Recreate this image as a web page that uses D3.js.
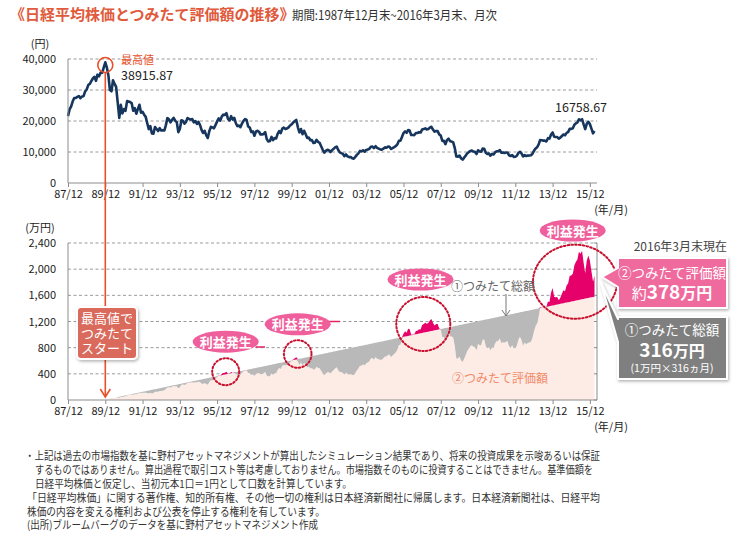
<!DOCTYPE html>
<html>
<head>
<meta charset="utf-8">
<script src="https://cdn.jsdelivr.net/npm/d3@7"></script>
<style>
  body { margin: 0; background: #fff; }
  svg { font-family: "Noto Sans CJK JP", "Noto Sans", sans-serif; }
</style>
</head>
<body>
<div id="chart"></div>
<script>
// monthly Nikkei 225 closes, 1987/12 .. 2016/03
var nikkei = [
  21564,
  23719, 24687, 26260, 27434, 27418, 27769, 28018, 27366, 27924, 28000, 29579, 30159,
  31581, 31986, 32839, 33714, 34267, 32949, 34954, 34431, 35637, 35549, 37269, 38916,
  37189, 34592, 29980, 29585, 33131, 31940, 31036, 25978, 20984, 25194, 22455, 23849,
  23293, 26409, 26292, 26111, 25790, 23291, 24121, 22336, 23916, 25222, 22688, 22984,
  22023, 21339, 19346, 17391, 18348, 15952, 15910, 18061, 17399, 16767, 17684, 16925,
  17024, 16953, 18591, 20919, 20552, 19590, 20380, 21027, 20106, 19703, 16408, 17417,
  20229, 19997, 19112, 19725, 20974, 20644, 20449, 20629, 19564, 19990, 19076, 19723,
  18650, 17053, 16140, 16807, 15437, 14517, 16678, 18117, 17913, 17655, 18744, 19868,
  20813, 20125, 21407, 22041, 21956, 22531, 20693, 20167, 21556, 20467, 21020, 19361,
  18330, 18557, 18003, 19151, 20069, 20605, 20331, 18229, 17888, 16459, 16636, 15259,
  16628, 16832, 16527, 15641, 15671, 15830, 16379, 14108, 13406, 13565, 14884, 13842,
  14499, 14368, 15837, 16702, 16112, 17530, 17862, 17437, 17605, 17942, 18558, 18934,
  19540, 19960, 20337, 17974, 16332, 17411, 15727, 16861, 15747, 14540, 14649, 13786,
  13844, 12884, 12999, 13934, 13262, 12969, 11861, 10714, 9775, 10366, 10697, 10543,
  9998, 10588, 11025, 11493, 11764, 10622, 9878, 9619, 9383, 8640, 9216, 8579,
  8340, 8363, 7973, 7831, 8425, 9083, 9563, 10344, 10219, 10560, 10101, 10677,
  10784, 11042, 11715, 11762, 11236, 11858, 11326, 11082, 10824, 10771, 11069, 11489,
  11388, 11741, 11669, 11009, 11277, 11584, 11900, 12414, 13574, 13607, 14872, 16111,
  16650, 16206, 17060, 16906, 15467, 15505, 15457, 16141, 16128, 16399, 16274, 17226,
  17383, 17604, 17288, 17400, 17876, 18138, 17249, 16569, 16786, 16737, 15681, 15308,
  13592, 13603, 12526, 13850, 14338, 13481, 13377, 13073, 11260, 8577, 8512, 8860,
  7994, 7568, 8110, 8828, 9523, 9958, 10357, 10493, 10133, 10035, 9346, 10546,
  10198, 10126, 11090, 11057, 9769, 9383, 9537, 8824, 9369, 9202, 9937, 10229,
  10238, 10624, 9755, 9850, 9694, 9816, 9833, 8955, 8700, 8988, 8435, 8455,
  8803, 9723, 10084, 9521, 8543, 9007, 8695, 8840, 8870, 8928, 9446, 10395,
  11139, 11559, 12398, 13861, 13775, 13677, 13668, 13389, 14456, 14328, 15662, 16291,
  14915, 14841, 14828, 14304, 14632, 15162, 15621, 15425, 16174, 16414, 17460, 17451,
  17674, 18798, 19207, 19520, 20563, 20236, 20585, 18890, 17388, 19083, 19747, 19034,
  17518, 16027, 16759
];

var xLabels = ["87/12", "89/12", "91/12", "93/12", "95/12", "97/12", "99/12", "01/12",
  "03/12", "05/12", "07/12", "09/12", "11/12", "13/12", "15/12"];
var topTicks = [0, 10000, 20000, 30000, 40000];
var bottomTicks = [0, 400, 800, 1200, 1600, 2000, 2400];

var buyStart = 24;     // purchases start 1989/12 (the peak)
var monthlyBuy = 5;    // per-month amount in the lower chart's axis units

var footnotes = [
  "・上記は過去の市場指数を基に野村アセットマネジメントが算出したシミュレーション結果であり、将来の投資成果を示唆あるいは保証",
  "するものではありません。算出過程で取引コスト等は考慮しておりません。市場指数そのものに投資することはできません。基準価額を",
  "日経平均株価と仮定し、当初元本1口＝1円として口数を計算しています。",
  "「日経平均株価」に関する著作権、知的所有権、その他一切の権利は日本経済新聞社に帰属します。日本経済新聞社は、日経平均",
  "株価の内容を変える権利および公表を停止する権利を有しています。",
  "(出所)ブルームバーグのデータを基に野村アセットマネジメント作成"
];

var svg = d3.select('#chart')
  .append('svg')
  .attr('width', 740)
  .attr('height', 555);

var defs = svg.append('defs');
var shadow = defs.append('filter').attr('id', 'shadow')
  .attr('x', '-20%').attr('y', '-20%').attr('width', '150%').attr('height', '150%');
shadow.append('feDropShadow').attr('dx', 1).attr('dy', 1.5).attr('stdDeviation', 1.5)
  .attr('flood-color', '#000').attr('flood-opacity', 0.3);

var data = nikkei.map(function (v, i) {
  return { date: new Date(1987, 11 + i, 1), price: v };
});

// accumulation simulation
var units = 0;
var accum = [];
data.forEach(function (d, i) {
  if (i < buyStart) return;
  units += monthlyBuy / d.price;
  accum.push({
    date: d.date,
    invested: monthlyBuy * (i - buyStart + 1),
    value: units * d.price
  });
});

var x = d3.scaleTime()
  .domain([new Date(1987, 11, 1), new Date(2016, 2, 1)])
  .range([68, 594.5]);
var xRight = 597;
var tickDates = xLabels.map(function (l, i) { return new Date(1987 + i * 2, 11, 1); });

var yTop = d3.scaleLinear().domain([0, 40000]).range([183, 59]);
var yBot = d3.scaleLinear().domain([0, 2400]).range([400, 243]);

// title
svg.append('text').attr('x', 10).attr('y', 20)
  .attr('font-size', 15).attr('font-weight', 'bold').attr('fill', '#e05a3c')
  .text('《日経平均株価とつみたて評価額の推移》');
svg.append('text').attr('x', 292).attr('y', 19.5)
  .attr('font-size', 12.5).attr('fill', '#333')
  .attr('textLength', 205).attr('lengthAdjust', 'spacingAndGlyphs')
  .text('期間:1987年12月末~2016年3月末、月次');

function drawFrame(y, ticks, unitLabel, unitY, labelY) {
  var g = svg.append('g');
  g.selectAll('.grid').data(ticks.slice(1)).enter().append('line')
    .attr('x1', 68).attr('x2', xRight)
    .attr('y1', function (d) { return y(d); })
    .attr('y2', function (d) { return y(d); })
    .attr('stroke', '#9a9a9a').attr('stroke-dasharray', '3,2.5');
  g.selectAll('.yl').data(ticks).enter().append('text')
    .attr('x', 56).attr('y', function (d) { return y(d) + 4; })
    .attr('text-anchor', 'end').attr('font-size', 11).attr('fill', '#222')
    .text(d3.format(','));
  g.append('text').attr('x', 40).attr('y', unitY).attr('text-anchor', 'middle')
    .attr('font-size', 11).attr('fill', '#222').text(unitLabel);
  g.append('text').attr('x', 611).attr('y', labelY).attr('text-anchor', 'middle')
    .attr('font-size', 11).attr('fill', '#222').text('(年/月)');
  return g;
}

function drawAxes(g, y, ticks, rightBorder) {
  var y0 = y(0);
  var xAxis = d3.axisBottom(x).tickValues(tickDates).tickSize(4).tickPadding(3)
    .tickFormat(function (d, i) { return xLabels[i]; });
  var ax = g.append('g').attr('transform', 'translate(0,' + y0 + ')').call(xAxis);
  ax.select('.domain').attr('d', 'M68,0H' + xRight).attr('stroke', '#8c8c8c');
  ax.selectAll('.tick line').attr('stroke', '#8c8c8c');
  ax.selectAll('.tick text').attr('font-size', 11).attr('fill', '#222')
    .attr('font-family', '"Noto Sans CJK JP", sans-serif');
  g.append('line').attr('x1', 68).attr('x2', 68)
    .attr('y1', y(ticks[ticks.length - 1])).attr('y2', y0)
    .attr('stroke', '#8c8c8c');
  if (rightBorder) {
    g.append('line').attr('x1', xRight).attr('x2', xRight)
      .attr('y1', y(ticks[ticks.length - 1])).attr('y2', y0)
      .attr('stroke', '#8c8c8c');
    g.selectAll('.rt').data(ticks).enter().append('line')
      .attr('x1', xRight - 3).attr('x2', xRight)
      .attr('y1', function (d) { return y(d); })
      .attr('y2', function (d) { return y(d); })
      .attr('stroke', '#8c8c8c');
  }
}

// ---- upper chart ----
var gTop = drawFrame(yTop, topTicks, '(円)', 48, 214);

gTop.append('path').datum(data)
  .attr('fill', 'none').attr('stroke', '#17365d').attr('stroke-width', 2.6)
  .attr('stroke-linejoin', 'round')
  .attr('d', d3.line().x(function (d) { return x(d.date); })
    .y(function (d) { return yTop(d.price); }));
drawAxes(gTop, yTop, topTicks, false);

// ---- lower chart ----
var gBot = drawFrame(yBot, bottomTicks, '(万円)', 232, 431);

gBot.append('path').datum(accum).attr('fill', '#fdece5')
  .attr('d', d3.area().x(function (d) { return x(d.date); })
    .y0(yBot(0)).y1(function (d) { return yBot(Math.min(d.value, d.invested)); }));
gBot.append('path').datum(accum).attr('fill', '#b9b9b9')
  .attr('d', d3.area().x(function (d) { return x(d.date); })
    .y0(function (d) { return yBot(Math.min(d.value, d.invested)); })
    .y1(function (d) { return yBot(d.invested); }));
gBot.append('path').datum(accum).attr('fill', '#e5006a')
  .attr('d', d3.area().x(function (d) { return x(d.date); })
    .y0(function (d) { return yBot(d.invested); })
    .y1(function (d) { return yBot(Math.max(d.value, d.invested)); }));
drawAxes(gBot, yBot, bottomTicks, true);

// ---- peak marker and arrow ----
var peakX = x(data[buyStart].date);
var orange = '#e8502a';
svg.append('line').attr('x1', peakX).attr('x2', peakX)
  .attr('y1', 72).attr('y2', 397)
  .attr('stroke', orange).attr('stroke-width', 1.6);
svg.append('path')
  .attr('d', 'M' + (peakX - 5) + ',389L' + peakX + ',397L' + (peakX + 5) + ',389')
  .attr('fill', 'none').attr('stroke', orange).attr('stroke-width', 1.6);
svg.append('circle').attr('cx', peakX).attr('cy', 65).attr('r', 7.5)
  .attr('fill', 'none').attr('stroke', orange).attr('stroke-width', 1.6);
svg.append('text').attr('x', 121).attr('y', 64).attr('font-size', 11)
  .attr('fill', orange).text('最高値');
svg.append('text').attr('x', 121).attr('y', 80).attr('font-size', 12.5)
  .attr('fill', '#222').text('38915.87');
svg.append('text').attr('x', 555).attr('y', 112).attr('font-size', 12.5)
  .attr('fill', '#222').text('16758.67');

// start box
svg.append('rect').attr('x', 77).attr('y', 307).attr('width', 60).attr('height', 52)
  .attr('rx', 4).attr('fill', '#d96b5c').attr('stroke', '#fff').attr('stroke-width', 2)
  .attr('filter', 'url(#shadow)');
['最高値で', 'つみたて', 'スタート'].forEach(function (t, i) {
  svg.append('text').attr('x', 107).attr('y', 322.5 + i * 15)
    .attr('text-anchor', 'middle').attr('font-size', 13).attr('fill', '#fff').text(t);
});

// profit annotations
var pink = '#ef5f9c';
var dotted = '#c8102e';
var bubbles = [
  { cx: 225.7, cy: 341.7 }, { cx: 297.7, cy: 324.3 },
  { cx: 420.5, cy: 279.5 }, { cx: 572.7, cy: 230.5 }
];
svg.append('line').attr('x1', 256).attr('x2', 265).attr('y1', 347).attr('y2', 347)
  .attr('stroke', '#e0245e').attr('stroke-width', 1.5);
svg.append('line').attr('x1', 328).attr('x2', 340).attr('y1', 321.5).attr('y2', 321.5)
  .attr('stroke', '#e0245e').attr('stroke-width', 1.5);
bubbles.forEach(function (b) {
  svg.append('ellipse').attr('cx', b.cx).attr('cy', b.cy).attr('rx', 33).attr('ry', 11)
    .attr('fill', pink);
  svg.append('text').attr('x', b.cx).attr('y', b.cy + 5).attr('text-anchor', 'middle')
    .attr('font-size', 13).attr('font-weight', 'bold').attr('fill', '#fff').text('利益発生');
});
var rings = [
  { cx: 225.7, cy: 371.7, rx: 13.5, ry: 13.5 },
  { cx: 297.7, cy: 354, rx: 13.8, ry: 13.8 },
  { cx: 423.3, cy: 324, rx: 27, ry: 27 },
  { cx: 575, cy: 281.7, rx: 42, ry: 37 }
];
rings.forEach(function (r) {
  svg.append('ellipse').attr('cx', r.cx).attr('cy', r.cy).attr('rx', r.rx).attr('ry', r.ry)
    .attr('fill', 'none').attr('stroke', dotted).attr('stroke-width', 2)
    .attr('stroke-dasharray', '1.6,2.2').attr('stroke-linecap', 'round');
});

// series labels
svg.append('text').attr('x', 493).attr('y', 291).attr('text-anchor', 'middle')
  .attr('font-size', 12).attr('fill', '#666').text('①つみたて総額');
svg.append('line').attr('x1', 506).attr('x2', 506).attr('y1', 294).attr('y2', 316)
  .attr('stroke', '#777').attr('stroke-width', 1);
svg.append('path').attr('d', 'M502,310L506,316L510,310')
  .attr('fill', 'none').attr('stroke', '#777').attr('stroke-width', 1);
svg.append('text').attr('x', 500).attr('y', 382.5).attr('text-anchor', 'middle')
  .attr('font-size', 12).attr('fill', '#f28a68').text('②つみたて評価額');

// callouts
svg.append('text').attr('x', 727).attr('y', 251).attr('text-anchor', 'end')
  .attr('font-size', 12).attr('fill', '#444').text('2016年3月末現在');

svg.append('path')
  .attr('d', 'M618,258H727V308H618V287L602,277L618,268Z')
  .attr('fill', '#ef6a9d').attr('stroke', '#fff').attr('stroke-width', 2)
  .attr('stroke-linejoin', 'round').attr('filter', 'url(#shadow)');
svg.append('text').attr('x', 672).attr('y', 278).attr('text-anchor', 'middle')
  .attr('font-size', 13.5).attr('fill', '#fff').text('②つみたて評価額');
var t1 = svg.append('text').attr('x', 672).attr('y', 299).attr('text-anchor', 'middle')
  .attr('fill', '#fff');
t1.append('tspan').attr('font-size', 15).text('約');
t1.append('tspan').attr('font-size', 19).attr('font-weight', 'bold').text('378');
t1.append('tspan').attr('font-size', 16).attr('font-weight', 'bold').text('万円');

svg.append('path')
  .attr('d', 'M618,317H727V379H618V342L601,283L618,319Z')
  .attr('fill', '#7f7f7f').attr('stroke', '#fff').attr('stroke-width', 2)
  .attr('stroke-linejoin', 'round').attr('filter', 'url(#shadow)');
svg.append('text').attr('x', 672).attr('y', 334.5).attr('text-anchor', 'middle')
  .attr('font-size', 13.5).attr('fill', '#fff').text('①つみたて総額');
var t2 = svg.append('text').attr('x', 672).attr('y', 356.5).attr('text-anchor', 'middle')
  .attr('fill', '#fff').attr('font-weight', 'bold');
t2.append('tspan').attr('font-size', 19).text('316');
t2.append('tspan').attr('font-size', 16).text('万円');
svg.append('text').attr('x', 672).attr('y', 371.5).attr('text-anchor', 'middle')
  .attr('font-size', 10.5).attr('fill', '#fff').text('(1万円×316ヵ月)');

// footnotes
var noteLayout = [
  { x: 25, y: 460, end: 600 }, { x: 35, y: 474, end: 593 }, { x: 35, y: 488, end: 352 },
  { x: 27, y: 502, end: 600 }, { x: 27, y: 516, end: 325 }, { x: 27, y: 529, end: 318 }
];
footnotes.forEach(function (t, i) {
  var n = noteLayout[i];
  svg.append('text').attr('x', n.x).attr('y', n.y)
    .attr('font-size', 11).attr('fill', '#333')
    .attr('textLength', n.end - n.x).attr('lengthAdjust', 'spacingAndGlyphs')
    .text(t);
});
</script>
</body>
</html>
